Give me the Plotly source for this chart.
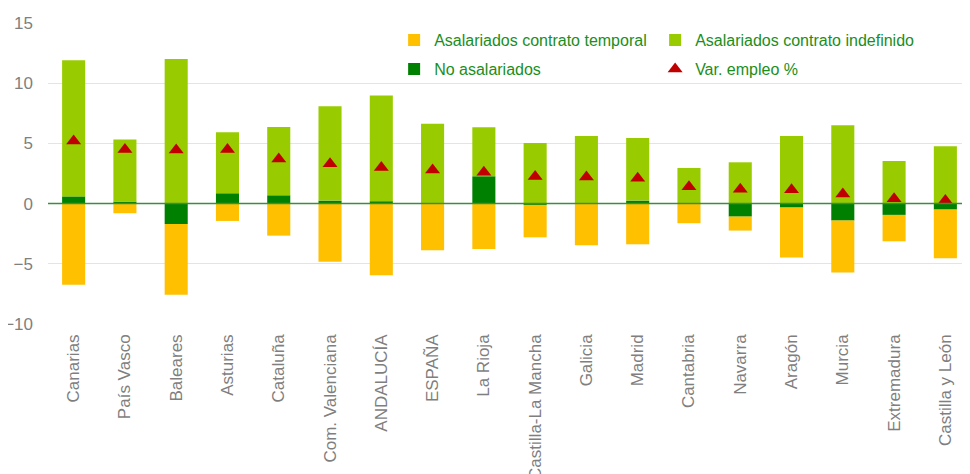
import plotly.graph_objects as go

categories = ["Canarias", "País Vasco", "Baleares", "Asturias", "Cataluña", "Com. Valenciana",
              "ANDALUCÍA", "ESPAÑA", "La Rioja", "Castilla-La Mancha", "Galicia", "Madrid",
              "Cantabria", "Navarra", "Aragón", "Murcia", "Extremadura", "Castilla y León"]

no_asalariados = [0.6, 0.17, -1.7, 0.86, 0.69, 0.25, 0.2, 0.05, 2.27, -0.1, 0.0, 0.25,
                  0.0, -1.08, -0.33, -1.41, -0.94, -0.5]
indefinido = [11.3, 5.15, 12.0, 5.06, 5.68, 7.83, 8.77, 6.59, 4.07, 5.04, 5.62, 5.2,
              2.96, 3.43, 5.62, 6.5, 3.54, 4.76]
temporal = [-6.75, -0.8, -5.87, -1.44, -2.66, -4.82, -5.95, -3.88, -3.77, -2.7, -3.46, -3.38,
            -1.63, -1.16, -4.15, -4.32, -2.19, -4.04]
var_empleo = [5.2, 4.5, 4.45, 4.5, 3.7, 3.3, 3.0, 2.8, 2.6, 2.25, 2.2, 2.1,
              1.4, 1.2, 1.15, 0.8, 0.4, 0.25]

y_ticks = [-10, -5, 0, 5, 10, 15]

GREEN_TXT = "#1b8e1b"
GRAY = "#7f7f7f"
FONT = "Liberation Sans, Arial, sans-serif"

fig = go.Figure()
fig.add_trace(go.Bar(x=categories, y=no_asalariados, name="No asalariados",
                     marker=dict(color="#008000", line=dict(width=0)), width=0.45,
                     legend="legend2", legendrank=3))
fig.add_trace(go.Bar(x=categories, y=indefinido, name="Asalariados contrato indefinido",
                     marker=dict(color="#99CC00", line=dict(width=0)), width=0.45,
                     legend="legend", legendrank=2))
fig.add_trace(go.Bar(x=categories, y=temporal, name="Asalariados contrato temporal",
                     marker=dict(color="#FFC000", line=dict(width=0)), width=0.45,
                     legend="legend", legendrank=1))
fig.add_trace(go.Scatter(x=categories, y=var_empleo, name="Var. empleo %", mode="markers",
                         marker=dict(symbol="triangle-up", size=13, color="#C00000"),
                         legend="legend2", legendrank=4))

fig.add_shape(type="line", xref="paper", x0=0, x1=1, yref="y", y0=0, y1=0,
              line=dict(color="#3a8f3a", width=1.5), layer="above")

leg_common = dict(orientation="h", xanchor="left", yanchor="middle",
                  font=dict(family=FONT, size=16, color=GREEN_TXT),
                  bgcolor="rgba(0,0,0,0)", entrywidth=216, entrywidthmode="pixels",
                  itemwidth=30, traceorder="normal")

fig.update_layout(
    width=970, height=474,
    margin=dict(l=40, r=7, t=15, b=158, autoexpand=False),
    barmode="relative",
    plot_bgcolor="white", paper_bgcolor="white",
    font=dict(family=FONT, size=16, color=GRAY),
    legend=dict(x=0.375, y=0.9435, **leg_common),
    legend2=dict(x=0.375, y=0.847, **leg_common),
    showlegend=True,
)
fig.update_xaxes(range=[-0.5, 17.5], tickangle=-90, tickfont=dict(size=17, color=GRAY),
                 showgrid=False, showline=False, ticks="", automargin=False,
                 ticklabelstandoff=6)
fig.update_yaxes(range=[-10, 15], tickvals=y_ticks, tickfont=dict(size=17, color=GRAY),
                 showgrid=True, gridcolor="#dde9dd", gridwidth=1, zeroline=False,
                 showline=False, ticks="", automargin=False, ticklabelstandoff=14)

fig.write_html("out.html")
